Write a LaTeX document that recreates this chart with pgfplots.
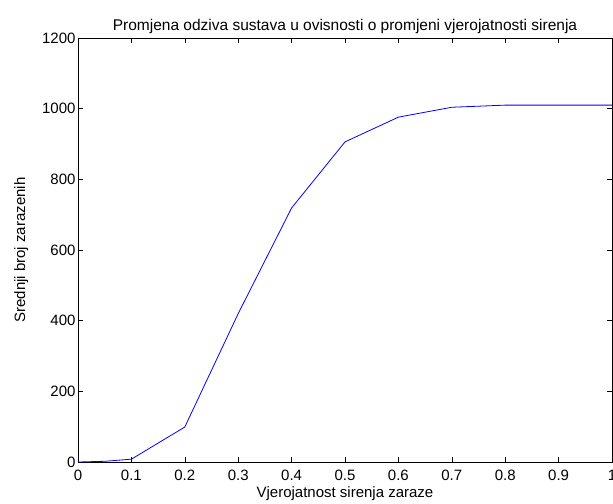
\documentclass[border=0pt]{standalone}
\usepackage{pgfplots}
\pgfplotsset{compat=1.18}
\usepackage{fontspec}
\setmainfont{Liberation Sans}
\begin{document}
\begin{tikzpicture}
\begin{axis}[
  width=534bp, height=424bp, scale only axis=true,
  xmin=0, xmax=1, ymin=0, ymax=1200,
  xtick={0,0.1,...,1.0},
  xticklabels={0,0.1,0.2,0.3,0.4,0.5,0.6,0.7,0.8,0.9,1},
  ytick={0,200,...,1200},
  tick align=inside,
  major tick length=5bp,
  tick style={black, line width=0.6bp},
  axis line style={black, line width=0.6bp},
  /pgf/number format/assume math mode=true,
  /pgf/number format/1000 sep={},
  ticklabel style={font=\fontsize{15bp}{17bp}\selectfont},
  xticklabel style={yshift=-5bp},
  yticklabel style={xshift=1bp},
  scaled y ticks=false,
  title={Promjena odziva sustava u ovisnosti o promjeni vjerojatnosti sirenja},
  title style={font=\fontsize{15.5bp}{17bp}\selectfont, yshift=-5bp},
  xlabel={Vjerojatnost sirenja zaraze},
  ylabel={Srednji broj zarazenih},
  label style={font=\fontsize{15bp}{17bp}\selectfont},
  xlabel style={yshift=1bp},
  ylabel style={yshift=7bp},
]
\addplot[blue, line width=0.8bp, mark=none] coordinates {
  (0,0) (0.05,2) (0.1,8) (0.2,99) (0.3,420) (0.4,719) (0.5,906) (0.6,976) (0.7,1004) (0.8,1010) (0.9,1010) (1.0,1010)
};
\end{axis}
\pgfresetboundingbox
\path[use as bounding box] ([xshift=-78bp,yshift=-42bp]current axis.south west) rectangle ([xshift=1bp,yshift=38bp]current axis.north east);
\end{tikzpicture}
\end{document}
